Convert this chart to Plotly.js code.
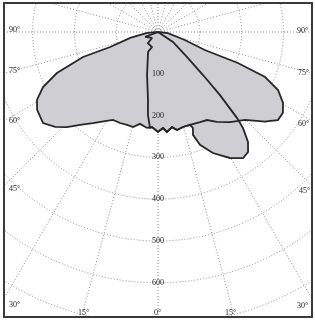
<!DOCTYPE html>
<html><head><meta charset="utf-8">
<script src="https://cdn.plot.ly/plotly-3.0.1.min.js"></script>
<style>
html,body{margin:0;padding:0;background:#fff;width:315px;height:322px;overflow:hidden}
#frame{position:absolute;left:3px;top:2px;width:306px;height:312px;border:2px solid #3a3a3a;overflow:hidden;background:#fff}
#chart{position:absolute;left:-247px;top:-372px;width:800px;height:800px;will-change:transform;opacity:0.999}
</style></head><body>
<div id="frame"><div id="chart"></div></div>
<script>
// Curve 1 (wide, C0-C180 plane): gamma angle (deg, + right / - left of nadir), intensity
const thetaA = [0, -85, -78, -72.6, -71.6, -67.9, -64.4, -60.7, -57.2, -51.6, -47.3, -43.8, -40, -35.5, -30.8, -27.1, -22.7, -18.4, -14.7, -11.1, -6.5, -3.6, 0, 3, 5.1, 8.4, 11, 14.7, 19, 25, 29.1, 33.2, 38.7, 44.7, 50.1, 53.7, 57.1, 60.4, 64.2, 67.2, 68.8, 69, 73.5, 84, 0];
const intensityA = [0, 26, 68, 120, 189, 261, 305, 332, 344, 351, 335, 315, 290, 268, 248, 236, 236, 234, 235, 224, 231, 228, 239, 230, 240, 230, 239, 235, 235, 238, 241, 257, 276, 296, 334, 356, 356, 344, 319, 278, 205, 120, 67, 24, 0];
// Curve 2 (narrow, C90-C270 plane)
const thetaB = [0, -69, -45, -42.3, -21.8, -26.6, -14.3, -8.4, -6.9, -4.8, -3.6, 0, 3, 5.1, 8.4, 11, 14.7, 19, 20, 18.8, 20.4, 24.4, 29.7, 34, 36.9, 39.3, 41.5, 42.6, 44.5, 46.3, 49.2, 56.3, 0];
const intensityB = [0, 33, 20, 36, 39, 53, 106, 164, 200, 230, 228, 239, 230, 240, 230, 239, 235, 235, 244, 260, 288, 318, 347, 364, 359, 340, 307, 279, 211, 149, 92, 43, 0];
// Radial tick labels
const radialTicks = [100, 200, 300, 400, 500, 600];
const radialLabels = ['100', '200', '300', '400', '500', '600'];
// Angle labels round the frame (left side, bottom, right side)
const angleLabels = ['90°', '75°', '60°', '45°', '30°', '15°', '0°', '15°', '30°', '45°', '60°', '75°', '90°'];
const angleLabelPos = [[14,29],[14,71],[14,121],[14,188],[14,304],[83,312],[157,312],[230,312],[302,305],[304,190],[303,123],[303,72],[302,30]];

const lineCol = '#262626';
const fillCol = '#cfcfd3';
const textFont = {family:'Liberation Serif', size:8, color:'#222'};
const traces = [
  {type:'scatterpolar', theta:thetaA, r:intensityA, mode:'lines', fill:'toself', fillcolor:fillCol, line:{width:0, color:fillCol}, hoverinfo:'skip'},
  {type:'scatterpolar', theta:thetaB, r:intensityB, mode:'lines', fill:'toself', fillcolor:fillCol, line:{width:0, color:fillCol}, hoverinfo:'skip'},
  {type:'scatterpolar', theta:thetaA, r:intensityA, mode:'lines', line:{width:1.8, color:lineCol}},
  {type:'scatterpolar', theta:thetaB, r:intensityB, mode:'lines', line:{width:1.8, color:lineCol}},
  {type:'scatterpolar', theta:radialTicks.map(()=>0), r:radialTicks, mode:'text', text:radialLabels,
   textfont:textFont, textposition:'middle center'}
];

// window pixel -> paper coordinates of the 800x800 chart div
const toPaper = (wx, wy) => [(wx + 242) / 800, 1 - (wy + 368) / 800];
const annotations = angleLabels.map((t, i) => {
  const p = toPaper(angleLabelPos[i][0], angleLabelPos[i][1]);
  return {text:t, x:p[0], y:p[1], xref:'paper', yref:'paper', showarrow:false,
          xanchor:'center', yanchor:'middle', font:textFont};
});

const gridStyle = {gridcolor:'#8c8c8c', griddash:'1px,2px', gridwidth:1};
const layout = {
  width:800, height:800, margin:{l:0, r:0, t:0, b:0},
  paper_bgcolor:'#fff', showlegend:false,
  polar:{
    domain:{x:[0,1], y:[0,1]}, bgcolor:'#fff',
    radialaxis:Object.assign({range:[0,957], tickmode:'linear', tick0:0, dtick:100, showticklabels:false, ticks:'',
                showline:false, angle:-90}, gridStyle),
    angularaxis:Object.assign({rotation:-90, direction:'counterclockwise', tickmode:'linear', tick0:0, dtick:15,
                 showticklabels:false, ticks:'', showline:false}, gridStyle)
  },
  annotations:annotations
};
Plotly.newPlot('chart', traces, layout, {staticPlot:true, displayModeBar:false});
</script>
</body></html>
